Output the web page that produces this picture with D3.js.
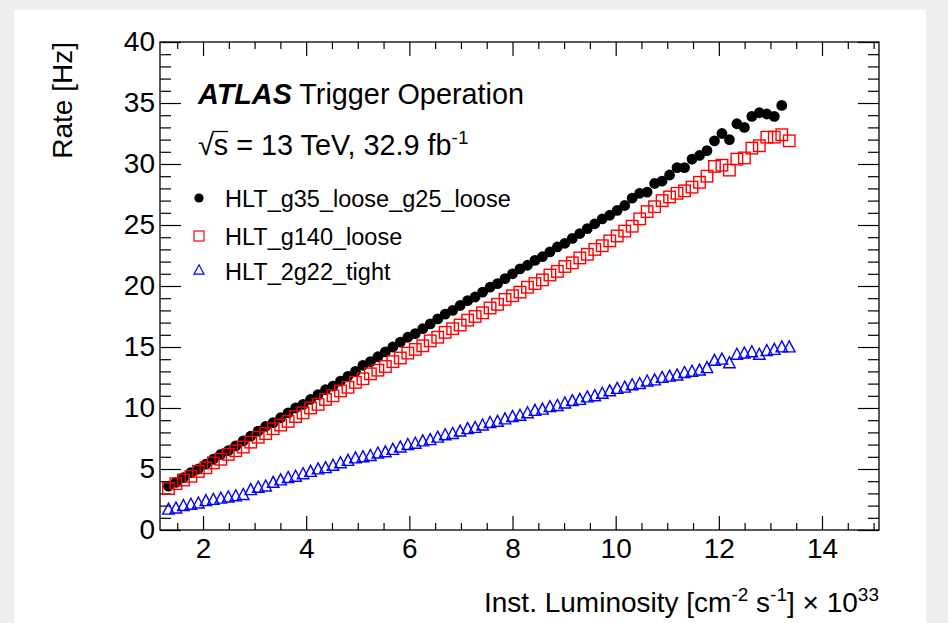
<!DOCTYPE html>
<html>
<head>
<meta charset="utf-8">
<script src="https://cdn.jsdelivr.net/npm/d3@7"></script>
<style>
  html, body { margin: 0; padding: 0; background: #efefef; }
  svg { display: block; }
  text { font-family: "Liberation Sans", Arial, Helvetica, sans-serif; fill: #000; }
</style>
</head>
<body>
<svg id="chart" width="948" height="623"></svg>
<script>
// Instantaneous luminosity bin centres [1e33 cm^-2 s^-1]
const lumi = [
  1.33, 1.475, 1.62, 1.765, 1.91, 2.055, 2.2, 2.345, 2.49, 2.635,
  2.78, 2.925, 3.07, 3.215, 3.36, 3.505, 3.65, 3.795, 3.94, 4.085,
  4.23, 4.375, 4.52, 4.665, 4.81, 4.955, 5.1, 5.245, 5.39, 5.535,
  5.68, 5.825, 5.97, 6.115, 6.26, 6.405, 6.55, 6.695, 6.84, 6.985,
  7.13, 7.275, 7.42, 7.565, 7.71, 7.855, 8.0, 8.145, 8.29, 8.435,
  8.58, 8.725, 8.87, 9.015, 9.16, 9.305, 9.45, 9.595, 9.74, 9.885,
  10.03, 10.175, 10.32, 10.465, 10.61, 10.755, 10.9, 11.045, 11.19, 11.335,
  11.48, 11.625, 11.77, 11.915, 12.06, 12.205, 12.35, 12.495, 12.64, 12.785,
  12.93, 13.075, 13.22, 13.365
];

// Trigger rates [Hz]
const rateG35G25 = [
  3.6, 3.9, 4.3, 4.7, 5.0, 5.4, 5.8, 6.2, 6.5, 6.9,
  7.3, 7.7, 8.1, 8.5, 8.8, 9.2, 9.6, 10.0, 10.3, 10.7,
  11.1, 11.5, 11.8, 12.2, 12.6, 13.0, 13.5, 13.8, 14.2, 14.6,
  15.0, 15.4, 15.8, 16.1, 16.5, 16.9, 17.3, 17.7, 18.0, 18.4,
  18.8, 19.1, 19.5, 19.9, 20.2, 20.6, 21.0, 21.4, 21.7, 22.1,
  22.4, 22.8, 23.2, 23.5, 23.9, 24.3, 24.7, 25.1, 25.5, 25.8,
  26.2, 26.6, 27.2, 27.6, 27.7, 28.4, 28.6, 29.1, 29.7, 29.7,
  30.4, 30.7, 31.1, 31.9, 32.5, 32.0, 33.3, 33.0, 33.9, 34.2,
  34.1, 33.9, 34.8
];
const rateG140 = [
  3.4, 3.8, 4.1, 4.4, 4.8, 5.1, 5.5, 5.8, 6.2, 6.5,
  6.8, 7.2, 7.6, 7.9, 8.3, 8.6, 8.9, 9.3, 9.6, 10.0,
  10.3, 10.7, 11.0, 11.4, 11.7, 12.1, 12.4, 12.8, 13.1, 13.4,
  13.8, 14.1, 14.5, 14.8, 15.1, 15.5, 15.8, 16.2, 16.5, 16.8,
  17.2, 17.5, 17.8, 18.2, 18.5, 18.9, 19.2, 19.5, 19.9, 20.2,
  20.5, 20.9, 21.2, 21.6, 21.9, 22.3, 22.6, 23.0, 23.3, 23.7,
  24.1, 24.5, 24.9, 25.5, 26.1, 26.5, 27.0, 27.3, 27.6, 27.8,
  28.1, 28.5, 29.0, 29.8, 29.9, 29.5, 30.4, 30.5, 31.3, 31.5,
  32.2, 32.2, 32.4, 31.9
];
const rate2g22 = [
  1.6, 1.7, 1.9, 2.0, 2.1, 2.3, 2.4, 2.5, 2.6, 2.7,
  2.8, 3.2, 3.4, 3.5, 3.8, 4.0, 4.2, 4.3, 4.5, 4.7,
  4.9, 5.0, 5.2, 5.4, 5.6, 5.8, 5.9, 6.0, 6.2, 6.3,
  6.5, 6.7, 6.9, 7.0, 7.2, 7.3, 7.5, 7.7, 7.8, 8.0,
  8.2, 8.3, 8.5, 8.7, 8.8, 9.0, 9.2, 9.3, 9.5, 9.7,
  9.8, 10.0, 10.1, 10.3, 10.5, 10.6, 10.8, 10.9, 11.1, 11.3,
  11.5, 11.6, 11.8, 11.9, 12.1, 12.2, 12.4, 12.5, 12.6, 12.8,
  12.9, 13.0, 13.2, 13.8, 13.9, 13.6, 14.3, 14.4, 14.5, 14.3,
  14.6, 14.7, 14.9, 14.9
];

const seriesNames = ["HLT_g35_loose_g25_loose", "HLT_g140_loose", "HLT_2g22_tight"];
const xMajorTicks = [2, 4, 6, 8, 10, 12, 14];
const xMinorTicks = [1.5, 2.5, 3, 3.5, 4.5, 5, 5.5, 6.5, 7, 7.5, 8.5, 9, 9.5, 10.5, 11, 11.5, 12.5, 13, 13.5, 14.5, 15];
const yMajorTicks = [0, 5, 10, 15, 20, 25, 30, 35, 40];
const yMinorTicks = d3.range(1, 40).filter(v => v % 5 !== 0);

const svg = d3.select("#chart");
const W = 948, H = 623;

// Canvas: white pad on a light grey window
svg.append("rect").attr("width", W).attr("height", H).attr("fill", "#efefef");
svg.append("rect").attr("x", 14).attr("y", 10).attr("width", 912).attr("height", H - 10).attr("fill", "#fff");

const frame = { left: 160, right: 879, top: 42, bottom: 530 };
const x = d3.scaleLinear().domain([1.166, 15.105]).range([frame.left, frame.right]);
const y = d3.scaleLinear().domain([0, 40]).range([frame.bottom, frame.top]);

const FONT = 28;

function styleAxis(g) {
  g.select(".domain").remove();
  g.selectAll(".tick line").attr("stroke", "#000").attr("stroke-width", 1.2);
  g.selectAll(".tick text").attr("font-size", FONT).attr("font-family", "Liberation Sans, Arial, sans-serif").attr("fill", "#000");
}

// Bottom axis (ticks pointing inward)
svg.append("g").attr("transform", `translate(0,${frame.bottom})`)
  .call(d3.axisBottom(x).tickValues(xMajorTicks).tickSize(-14).tickPadding(8).tickFormat(d3.format("d")))
  .call(styleAxis);
svg.append("g").attr("transform", `translate(0,${frame.bottom})`)
  .call(d3.axisBottom(x).tickValues(xMinorTicks).tickSize(-7).tickFormat(""))
  .call(styleAxis);
// Top axis
svg.append("g").attr("transform", `translate(0,${frame.top})`)
  .call(d3.axisTop(x).tickValues(xMajorTicks).tickSize(-14).tickFormat(""))
  .call(styleAxis);
svg.append("g").attr("transform", `translate(0,${frame.top})`)
  .call(d3.axisTop(x).tickValues(xMinorTicks).tickSize(-7).tickFormat(""))
  .call(styleAxis);
// Left axis
svg.append("g").attr("transform", `translate(${frame.left},0)`)
  .call(d3.axisLeft(y).tickValues(yMajorTicks).tickSize(-21).tickPadding(5).tickFormat(d3.format("d")))
  .call(styleAxis);
svg.append("g").attr("transform", `translate(${frame.left},0)`)
  .call(d3.axisLeft(y).tickValues(yMinorTicks).tickSize(-11).tickFormat(""))
  .call(styleAxis);
// Right axis
svg.append("g").attr("transform", `translate(${frame.right},0)`)
  .call(d3.axisRight(y).tickValues(yMajorTicks).tickSize(-21).tickFormat(""))
  .call(styleAxis);
svg.append("g").attr("transform", `translate(${frame.right},0)`)
  .call(d3.axisRight(y).tickValues(yMinorTicks).tickSize(-11).tickFormat(""))
  .call(styleAxis);

// Frame
svg.append("rect")
  .attr("x", frame.left).attr("y", frame.top)
  .attr("width", frame.right - frame.left).attr("height", frame.bottom - frame.top)
  .attr("fill", "none").attr("stroke", "#000").attr("stroke-width", 1.3);

// Markers
const circleR = 5.4;
const sq = 11.5;
const triW = 11.5, triH = 11;
const triPath = `M0,${-triH * 2 / 3}L${triW / 2},${triH / 3}L${-triW / 2},${triH / 3}Z`;

const plot = svg.append("g");
plot.selectAll("circle.g35")
  .data(rateG35G25.map((v, i) => [lumi[i], v]))
  .join("circle").attr("class", "g35")
  .attr("cx", d => x(d[0])).attr("cy", d => y(d[1])).attr("r", circleR)
  .attr("fill", "#000");
plot.selectAll("rect.g140")
  .data(rateG140.map((v, i) => [lumi[i], v]))
  .join("rect").attr("class", "g140")
  .attr("x", d => x(d[0]) - sq / 2).attr("y", d => y(d[1]) - sq / 2)
  .attr("width", sq).attr("height", sq)
  .attr("fill", "none").attr("stroke", "#ff0000").attr("stroke-width", 1.4);
plot.selectAll("path.g2g22")
  .data(rate2g22.map((v, i) => [lumi[i], v]))
  .join("path").attr("class", "g2g22")
  .attr("d", triPath)
  .attr("transform", d => `translate(${x(d[0])},${y(d[1])})`)
  .attr("fill", "none").attr("stroke", "#0000ff").attr("stroke-width", 1.4)
  .attr("stroke-linejoin", "miter");

// Axis titles
svg.append("text")
  .attr("transform", `translate(72,${frame.top}) rotate(-90)`)
  .attr("text-anchor", "end").attr("font-size", FONT)
  .text("Rate [Hz]");

const xt = svg.append("text")
  .attr("x", frame.right).attr("y", 612)
  .attr("text-anchor", "end").attr("font-size", FONT);
const SUP = 11;
xt.append("tspan").text("Inst. Luminosity [cm");
xt.append("tspan").attr("dy", -SUP).attr("font-size", 19).text("-2");
xt.append("tspan").attr("dy", SUP).text(" s");
xt.append("tspan").attr("dy", -SUP).attr("font-size", 19).text("-1");
xt.append("tspan").attr("dy", SUP).text("] \u00d7 10");
xt.append("tspan").attr("dy", -SUP).attr("font-size", 19).text("33");

// ATLAS label
const TFONT = 28.8;
const atl = svg.append("text").attr("x", 198).attr("y", 104).attr("font-size", TFONT);
atl.append("tspan").attr("font-weight", "bold").attr("font-style", "italic").text("ATLAS");
atl.append("tspan").text(" Trigger Operation");

const ener = svg.append("text").attr("x", 198).attr("y", 155).attr("font-size", TFONT);
ener.append("tspan").text("\u221As = 13 TeV, 32.9 fb");
ener.append("tspan").attr("dy", -SUP).attr("font-size", 19).text("-1");
// overbar of the square root
const sExt = ener.node().getExtentOfChar(1);
const rootExt = ener.node().getExtentOfChar(0);
svg.append("line")
  .attr("x1", rootExt.x + rootExt.width - 1.5).attr("x2", sExt.x + sExt.width)
  .attr("y1", rootExt.y + 2.5).attr("y2", rootExt.y + 2.5)
  .attr("stroke", "#000").attr("stroke-width", 1.3);

// Legend
const legRows = [198, 236, 271];
const LFONT = 23.5;
const leg = svg.append("g");
leg.append("circle").attr("cx", 199).attr("cy", legRows[0]).attr("r", 4.6).attr("fill", "#000");
leg.append("rect").attr("x", 199 - 5).attr("y", legRows[1] - 5).attr("width", 10).attr("height", 10)
  .attr("fill", "none").attr("stroke", "#ff0000").attr("stroke-width", 1.2);
leg.append("path").attr("d", "M0,-6.3L5,3.2L-5,3.2Z").attr("transform", `translate(199,${legRows[2]})`)
  .attr("fill", "none").attr("stroke", "#0000ff").attr("stroke-width", 1.2);
seriesNames.forEach((name, i) => {
  leg.append("text").attr("x", 225).attr("y", legRows[i] + 8.5)
    .attr("font-size", LFONT).text(name);
});
</script>
</body>
</html>
